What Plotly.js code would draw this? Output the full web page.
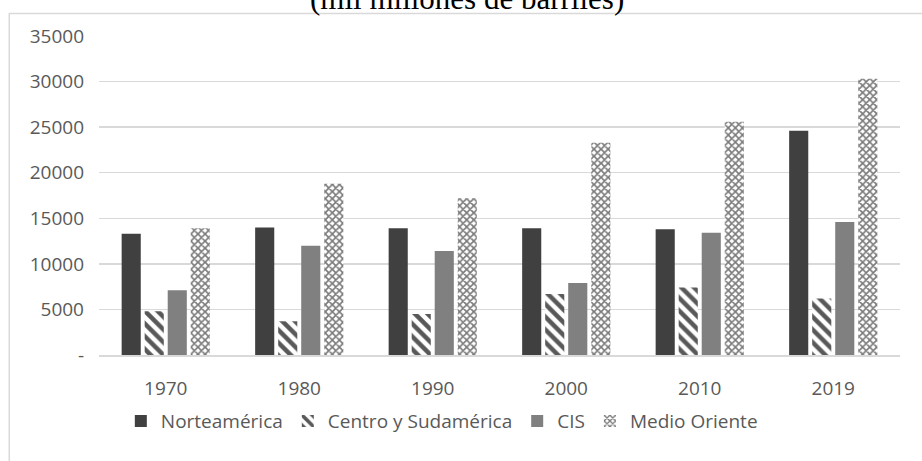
<!DOCTYPE html>
<html>
<head>
<meta charset="utf-8">
<script src="https://cdn.plot.ly/plotly-3.0.1.min.js"></script>
<style>html,body{margin:0;padding:0;background:#fff;}#chart{width:922px;height:461px;}</style>
</head>
<body>
<div id="chart"></div>
<script>
const years = ['1970', '1980', '1990', '2000', '2010', '2019'];
const norteamerica = [13300, 14000, 13900, 13900, 13800, 24600];
const centroSudamerica = [4800, 3700, 4500, 6700, 7400, 6200];
const cis = [7100, 12000, 11400, 7900, 13400, 14600];
const medioOriente = [13900, 18800, 17200, 23300, 25600, 30300];
const yTickVals = [0, 5000, 10000, 15000, 20000, 25000, 30000, 35000];
const yTickText = ['-', '5000', '10000', '15000', '20000', '25000', '30000', '35000'];
const titleText = '(mil millones de barriles)';

const FONT = 'Open Sans, Noto Sans, sans-serif';
const traces = [
  {type: 'bar', name: 'Norteamérica', x: years, y: norteamerica,
   marker: {color: '#404040'}},
  {type: 'bar', name: 'Centro y Sudamérica', x: years, y: centroSudamerica,
   marker: {color: '#ffffff', pattern: {shape: '\\', fgcolor: '#595959', bgcolor: '#ffffff', size: 9, solidity: 0.5}}},
  {type: 'bar', name: 'CIS', x: years, y: cis,
   marker: {color: '#808080'}},
  {type: 'bar', name: 'Medio Oriente', x: years, y: medioOriente,
   marker: {color: '#ffffff', pattern: {shape: 'x', fgcolor: '#7a7a7a', bgcolor: '#ffffff', size: 5, solidity: 0.55}}}
];

const layout = {
  width: 922, height: 461,
  margin: {l: 99, r: 22, t: 36, b: 106},
  paper_bgcolor: '#ffffff', plot_bgcolor: '#ffffff',
  font: {family: FONT, color: '#595959', size: 19},
  barmode: 'group', bargap: 0.31, bargroupgap: 0.17,
  showlegend: true,
  legend: {orientation: 'h', x: 0.428, xanchor: 'center', y: -0.207, yanchor: 'middle',
           font: {family: FONT, size: 19, color: '#595959'}, itemwidth: 30, traceorder: 'normal'},
  xaxis: {type: 'category', showgrid: false, showline: true, linecolor: '#d9d9d9', linewidth: 1.5,
          ticks: '', ticklabelstandoff: 16, tickfont: {family: FONT, size: 19, color: '#595959'}},
  yaxis: {range: [0, 35000], tickvals: yTickVals, ticktext: yTickText, showgrid: true,
          gridcolor: '#d9d9d9', gridwidth: 1.5, zeroline: false, showline: false, ticks: '',
          ticklabelstandoff: 14, tickfont: {family: FONT, size: 19, color: '#595959'}},
  annotations: [{text: titleText, xref: 'paper', yref: 'paper', x: 0.459, y: 1.119,
                 xanchor: 'center', yanchor: 'middle', showarrow: false,
                 font: {family: 'Liberation Serif, Times New Roman, serif', size: 31, color: '#000000'}}],
  shapes: [{type: 'rect', xref: 'paper', yref: 'paper', x0: -0.112, x1: 1.04, y0: -0.36, y1: 1.0705,
            line: {color: '#d9d9d9', width: 1.5}, fillcolor: 'rgba(0,0,0,0)', layer: 'below'}]
};

Plotly.newPlot('chart', traces, layout, {displayModeBar: false, staticPlot: true});
</script>
</body>
</html>
